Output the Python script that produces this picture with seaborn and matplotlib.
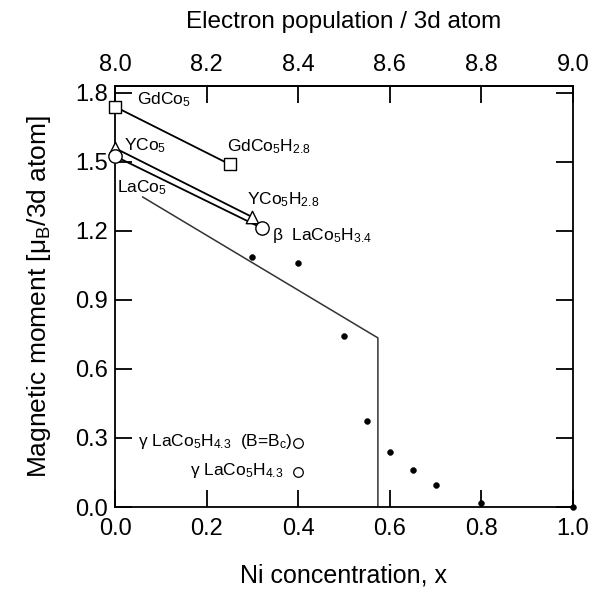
import matplotlib
matplotlib.use("Agg")
import matplotlib.pyplot as plt
import seaborn as sns

# ---- data ----
x_gd = [0.0, 0.25]
m_gd = [1.74, 1.49]
x_yco = [0.0, 0.30]
m_yco = [1.56, 1.26]
x_la = [0.0, 0.32]
m_la = [1.525, 1.213]
x_theory = [0.06, 0.574, 0.574]
m_theory = [1.348, 0.735, 0.0]
x_ni = [0.30, 0.40, 0.50, 0.55, 0.60, 0.65, 0.70, 0.80, 1.00]
m_ni = [1.087, 1.061, 0.743, 0.374, 0.239, 0.161, 0.096, 0.017, 0.0]
x_gamma = [0.40, 0.40]
m_gamma = [0.278, 0.152]
xticks = [0.0, 0.2, 0.4, 0.6, 0.8, 1.0]
yticks = [0.0, 0.3, 0.6, 0.9, 1.2, 1.5, 1.8]
top_ticklabels = ["8.0", "8.2", "8.4", "8.6", "8.8", "9.0"]

sns.set_style("ticks")
plt.rcParams["font.family"] = ["Liberation Sans", "DejaVu Sans"]
plt.rcParams["mathtext.fontset"] = "custom"
plt.rcParams["mathtext.rm"] = "Liberation Sans"
plt.rcParams["mathtext.it"] = "Liberation Sans:italic"
plt.rcParams["mathtext.default"] = "regular"
for k in ["text.color", "axes.labelcolor", "xtick.color", "ytick.color", "axes.edgecolor"]:
    plt.rcParams[k] = "black"

fig = plt.figure(figsize=(6.04, 5.90), dpi=100)
ax = fig.add_axes([115 / 604, 1 - 507 / 590, (573 - 115) / 604, (507 - 86) / 590])

lw = 1.3
# connecting lines
for xs, ms in [(x_gd, m_gd), (x_yco, m_yco), (x_la, m_la)]:
    sns.lineplot(x=xs, y=ms, ax=ax, color="black", lw=lw, sort=False, estimator=None, zorder=2)
sns.lineplot(x=x_theory, y=m_theory, ax=ax, color="#333333", lw=1.1, sort=False, estimator=None, zorder=2)

# markers
sns.scatterplot(x=x_gd, y=m_gd, ax=ax, marker="s", s=78, facecolor="white", edgecolor="black", linewidth=1.0, zorder=4)
sns.scatterplot(x=x_yco, y=m_yco, ax=ax, marker="^", s=80, facecolor="white", edgecolor="black", linewidth=1.0, zorder=4)
sns.scatterplot(x=x_la, y=m_la, ax=ax, marker="o", s=92, facecolor="white", edgecolor="black", linewidth=1.0, zorder=5)
sns.scatterplot(x=x_gamma, y=m_gamma, ax=ax, marker="o", s=48, facecolor="white", edgecolor="black", linewidth=0.9, zorder=4)
sns.scatterplot(x=x_ni, y=m_ni, ax=ax, marker="o", s=18, color="black", edgecolor="black", zorder=5)
for c in ax.collections:
    c.set_clip_on(False)

ax.set_xlim(0, 1.0)
ax.set_ylim(0, 1.83)
ax.set_xticks(xticks)
ax.set_xticklabels([f"{v:.1f}" for v in xticks])
ax.set_yticks(yticks)
ax.set_yticklabels([f"{v:.1f}" for v in yticks])
ax.tick_params(direction="in", length=12, width=1.3, labelsize=17, right=True, colors="black")
ax.tick_params(axis="x", pad=8)
ax.tick_params(axis="y", pad=5)
for s in ax.spines.values():
    s.set_linewidth(1.3)
    s.set_color("black")
    s.set_visible(True)

sec = ax.secondary_xaxis("top", functions=(lambda x: x + 8.0, lambda e: e - 8.0))
sec.set_xticks([8.0 + v for v in xticks])
sec.set_xticklabels(top_ticklabels)
sec.tick_params(direction="in", length=12, width=1.3, labelsize=17, pad=7, colors="black")
sec.spines["top"].set_color("black")
sec.spines["top"].set_linewidth(1.3)
sec.set_xlabel("Electron population / 3d atom", fontsize=17.5, labelpad=19, color="black")

ax.set_xlabel("Ni concentration, x", fontsize=18, labelpad=17, color="black")
ax.set_ylabel("Magnetic moment [μ$_B$/3d atom]", fontsize=19, labelpad=16, color="black")

fs = 12.5
ax.text(0.048, 1.77, "GdCo$_5$", fontsize=fs, va="center", ha="left")
ax.text(0.245, 1.565, "GdCo$_5$H$_{2.8}$", fontsize=fs, va="center", ha="left")
ax.text(0.02, 1.57, "YCo$_5$", fontsize=fs, va="center", ha="left")
ax.text(0.005, 1.39, "LaCo$_5$", fontsize=fs, va="center", ha="left")
ax.text(0.288, 1.335, "YCo$_5$H$_{2.8}$", fontsize=fs, va="center", ha="left")
ax.text(0.343, 1.178, "β  LaCo$_5$H$_{3.4}$", fontsize=fs, va="center", ha="left")
ax.text(0.389, 0.283, "γ LaCo$_5$H$_{4.3}$  (B=B$_c$)", fontsize=fs, va="center", ha="right")
ax.text(0.367, 0.157, "γ LaCo$_5$H$_{4.3}$", fontsize=fs, va="center", ha="right")

fig.savefig("out.png", dpi=100)
